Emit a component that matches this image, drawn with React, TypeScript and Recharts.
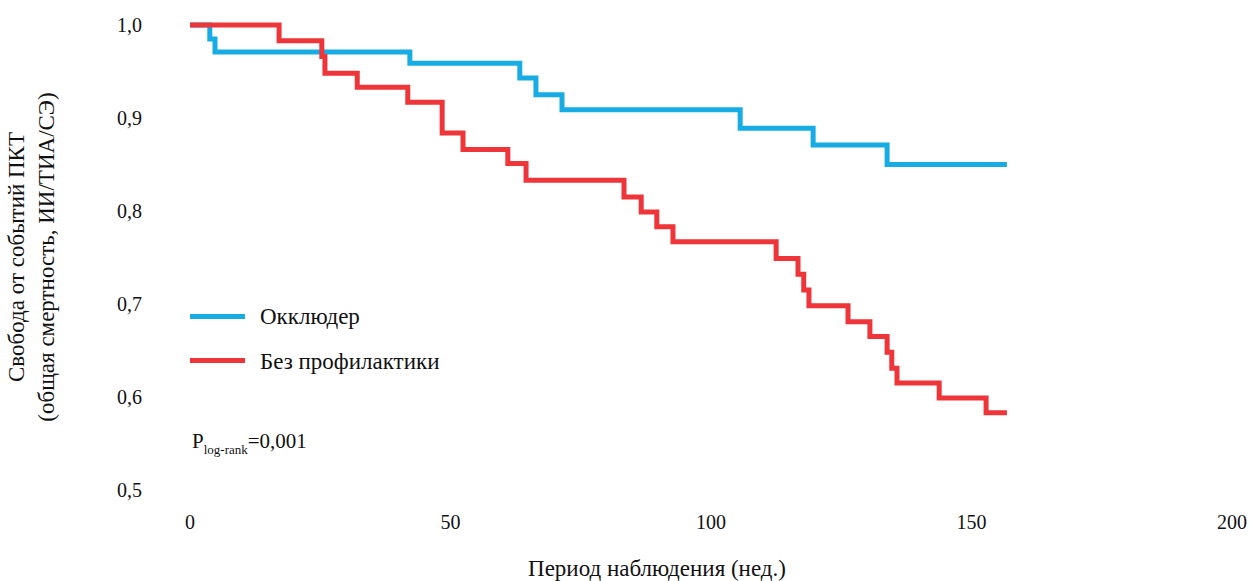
import { LineChart, Line, XAxis, YAxis } from 'recharts';

// Kaplan–Meier estimates (weeks, survival)
const occluderWeeks = [0, 3.8, 4.8, 42.2, 63.3, 66.4, 71.4, 105.6, 119.6, 133.8, 156.8];
const occluderSurv = [1.0, 0.985, 0.971, 0.959, 0.943, 0.925, 0.909, 0.889, 0.871, 0.85, 0.85];

const noProphWeeks = [
  0, 17.1, 25.3, 25.9, 32.1, 41.8, 48.4, 52.4, 61.0, 64.5, 83.3, 86.6, 89.6, 92.7, 112.5,
  116.7, 117.8, 118.8, 126.3, 130.5, 133.8, 134.7, 135.7, 143.8, 152.8, 156.8,
];
const noProphSurv = [
  1.0, 0.983, 0.966, 0.948, 0.933, 0.917, 0.884, 0.866, 0.851, 0.833, 0.815, 0.799, 0.783,
  0.767, 0.749, 0.732, 0.715, 0.698, 0.681, 0.665, 0.648, 0.631, 0.615, 0.599, 0.583, 0.583,
];

const xTicks = [0, 50, 100, 150, 200];
const yTicks = [0.5, 0.6, 0.7, 0.8, 0.9, 1.0];

const BLUE = '#17ADE4';
const RED = '#EE3539';
const FONT = "'Times New Roman', 'Liberation Serif', Times, serif";

const occluderData = occluderWeeks.map((t, i) => ({ t, s: occluderSurv[i] }));
const noProphData = noProphWeeks.map((t, i) => ({ t, s: noProphSurv[i] }));

const fmt = (v: number) => v.toFixed(1).replace('.', ',');

export default function App() {
  return (
    <div style={{ position: 'absolute', left: 0, top: 0, width: 1257, height: 581, fontFamily: FONT, background: '#fff' }}>
      <LineChart width={1257} height={581} margin={{ top: 25, right: 25, bottom: 0, left: 0 }} style={{ fontFamily: FONT }}>
        <XAxis
          type="number"
          dataKey="t"
          domain={[0, 200]}
          ticks={xTicks}
          axisLine={false}
          tickLine={false}
          tickSize={0}
          tickMargin={25}
          height={91}
          tick={{ fill: '#111', fontSize: 20, fontFamily: FONT }}
        />
        <YAxis
          type="number"
          domain={[0.5, 1.0]}
          ticks={yTicks}
          tickFormatter={fmt}
          axisLine={false}
          tickLine={false}
          tickSize={0}
          tickMargin={48}
          width={190}
          tick={{ fill: '#111', fontSize: 20, fontFamily: FONT }}
        />
        <Line data={occluderData} dataKey="s" type="stepAfter" stroke={BLUE} strokeWidth={5} dot={false} isAnimationActive={false} />
        <Line data={noProphData} dataKey="s" type="stepAfter" stroke={RED} strokeWidth={5} dot={false} isAnimationActive={false} />
      </LineChart>

      {/* legend */}
      <div style={{ position: 'absolute', left: 190, top: 314, width: 55, height: 5, background: BLUE }} />
      <div style={{ position: 'absolute', left: 260, top: 317, transform: 'translateY(-50%)', fontSize: 23, lineHeight: '26px', color: '#111', whiteSpace: 'nowrap' }}>
        Окклюдер
      </div>
      <div style={{ position: 'absolute', left: 190, top: 358, width: 55, height: 5, background: RED }} />
      <div style={{ position: 'absolute', left: 260, top: 362, transform: 'translateY(-50%)', fontSize: 23, lineHeight: '26px', color: '#111', whiteSpace: 'nowrap' }}>
        Без профилактики
      </div>

      {/* p-value */}
      <div style={{ position: 'absolute', left: 192, top: 429, fontSize: 21, lineHeight: '24px', color: '#111', whiteSpace: 'nowrap' }}>
        P<sub style={{ fontSize: 13, verticalAlign: '-6px' }}>log-rank</sub>=0,001
      </div>

      {/* axis titles */}
      <div style={{ position: 'absolute', left: 657, top: 569, transform: 'translate(-50%, -50%)', fontSize: 23, color: '#111', whiteSpace: 'nowrap' }}>
        Период наблюдения (нед.)
      </div>
      <div
        style={{
          position: 'absolute',
          left: 32,
          top: 257,
          transform: 'translate(-50%, -50%) rotate(-90deg)',
          fontSize: 23,
          lineHeight: '30px',
          color: '#111',
          whiteSpace: 'nowrap',
          textAlign: 'center',
        }}
      >
        Свобода от событий ПКТ
        <br />
        (общая смертность, ИИ/ТИА/СЭ)
      </div>
    </div>
  );
}
